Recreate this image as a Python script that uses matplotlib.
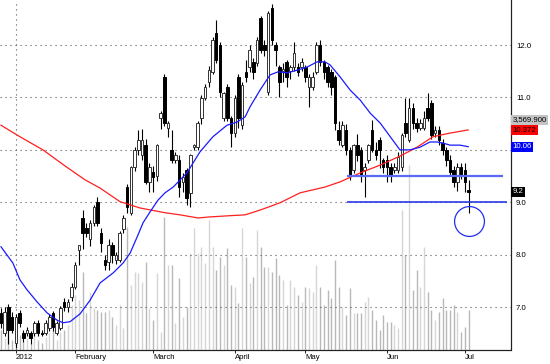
import matplotlib
matplotlib.use("Agg")
from matplotlib import pyplot as plt
from matplotlib.patches import Rectangle

# daily OHLC (one entry per trading day, late Dec 2011 -> early Jul 2012)
open_ = [6.89, 6.50, 7.00, 6.81, 6.32, 6.89, 6.50, 6.50, 6.50, 6.50,
         6.70, 6.50, 6.50, 6.60, 6.89, 6.50, 6.60, 7.10, 7.00, 7.19,
         7.38, 8.09, 8.70, 8.51, 8.30, 8.60, 9.00, 8.41, 7.90, 7.86,
         8.18, 7.90, 7.90, 8.49, 9.29, 8.80, 9.67, 10.00, 9.90, 10.09,
         9.39, 9.58, 9.50, 10.61, 11.39, 10.42, 10.00, 9.81, 9.81, 9.39,
         9.62, 9.18, 10.06, 10.06, 10.61, 10.99, 11.29, 11.48, 12.23, 12.00,
         10.61, 11.20, 10.61, 10.32, 11.39, 10.48, 11.48, 11.58, 11.68, 11.65,
         12.52, 12.00, 11.10, 12.71, 12.00, 11.58, 11.50, 11.68, 11.50, 11.58,
         11.58, 11.58, 11.58, 11.20, 11.20, 11.48, 12.00, 11.68, 11.58, 11.48,
         11.39, 10.38, 10.09, 10.38, 10.00, 9.62, 10.09, 10.00, 9.62, 9.81,
         10.38, 10.00, 10.19, 9.81, 9.81, 9.67, 9.62, 9.62, 9.67, 10.51,
         10.19, 10.80, 10.51, 10.42, 10.42, 10.80, 10.90, 10.32, 10.38, 10.13,
         10.00, 9.81, 9.62, 9.39, 9.67, 9.62, 9.23]
high = [6.98, 7.00, 7.05, 6.90, 6.87, 6.95, 6.56, 6.62, 6.55, 6.74,
        6.75, 6.57, 6.76, 6.86, 6.93, 6.74, 7.02, 7.18, 7.15, 7.45,
        7.86, 8.19, 8.85, 8.60, 8.66, 8.95, 9.10, 8.50, 8.00, 8.30,
        8.25, 8.05, 8.45, 8.75, 9.35, 9.70, 10.05, 10.38, 10.40, 10.20,
        9.75, 9.70, 10.12, 10.75, 11.45, 10.55, 10.38, 9.95, 9.90, 9.55,
        9.65, 9.92, 10.12, 10.55, 11.05, 11.25, 11.60, 12.15, 12.48, 12.05,
        11.10, 11.25, 10.65, 11.05, 11.45, 11.30, 11.72, 12.00, 11.75, 12.15,
        12.55, 12.10, 12.65, 12.78, 12.05, 11.62, 11.65, 11.72, 11.62, 12.05,
        11.65, 11.75, 11.62, 11.45, 11.48, 12.05, 12.10, 11.72, 11.62, 11.55,
        11.42, 10.55, 10.55, 10.50, 10.05, 10.12, 10.30, 10.05, 9.75, 10.12,
        10.57, 10.15, 10.25, 9.85, 9.90, 9.75, 9.75, 9.95, 10.32, 10.99,
        10.99, 10.90, 10.60, 10.58, 10.75, 11.08, 10.95, 10.45, 10.45, 10.20,
        10.05, 9.90, 9.70, 9.75, 9.75, 9.75, 9.42]
low = [6.60, 6.45, 6.30, 6.50, 6.22, 6.62, 6.33, 6.45, 6.30, 6.45,
       6.44, 6.44, 6.46, 6.55, 6.55, 6.46, 6.56, 6.93, 6.90, 7.12,
       7.35, 7.80, 8.10, 8.33, 8.16, 8.55, 8.55, 8.05, 7.70, 7.70,
       7.85, 7.82, 7.86, 8.42, 8.80, 8.75, 9.60, 9.90, 9.80, 9.35,
       9.20, 9.20, 9.40, 10.40, 10.45, 10.25, 9.75, 9.75, 9.10, 9.20,
       8.95, 8.90, 10.00, 10.00, 10.50, 10.95, 11.20, 11.45, 11.65, 11.00,
       10.55, 10.55, 10.05, 10.25, 10.42, 10.40, 11.29, 11.48, 11.35, 11.60,
       11.85, 11.80, 11.05, 12.00, 11.60, 11.00, 11.30, 11.20, 11.35, 11.50,
       11.40, 11.50, 11.30, 10.82, 11.15, 11.45, 11.60, 11.35, 11.20, 11.05,
       10.38, 10.10, 10.05, 9.90, 9.42, 9.55, 9.78, 9.38, 9.10, 9.75,
       9.95, 9.80, 9.65, 9.55, 9.38, 9.38, 9.55, 9.55, 9.60, 10.25,
       10.15, 10.40, 10.35, 10.38, 10.38, 10.55, 10.20, 10.25, 10.10, 9.90,
       9.70, 9.50, 9.30, 9.21, 9.45, 9.20, 8.80]
close = [6.70, 6.91, 6.56, 6.56, 6.81, 6.70, 6.41, 6.56, 6.41, 6.70,
         6.50, 6.49, 6.70, 6.81, 6.62, 6.70, 6.98, 7.00, 7.10, 7.38,
         7.80, 8.18, 8.41, 8.41, 8.60, 8.91, 8.60, 8.22, 7.80, 8.18,
         7.99, 7.99, 8.41, 8.70, 8.91, 9.67, 10.00, 10.19, 10.19, 9.39,
         9.67, 9.48, 10.09, 10.70, 10.51, 10.51, 9.81, 9.90, 9.29, 9.48,
         9.08, 9.90, 10.09, 10.51, 10.99, 11.20, 11.52, 12.10, 11.72, 11.10,
         11.08, 10.61, 10.32, 10.99, 10.61, 11.24, 11.39, 11.91, 11.48, 12.10,
         11.91, 11.91, 12.61, 12.10, 11.91, 11.29, 11.54, 11.39, 11.58, 11.85,
         11.48, 11.68, 11.39, 11.39, 11.39, 12.00, 11.68, 11.48, 11.29, 11.20,
         10.51, 10.19, 10.48, 10.00, 9.52, 10.09, 9.90, 9.52, 9.67, 10.09,
         10.00, 9.90, 10.00, 9.67, 9.67, 9.52, 9.67, 9.87, 10.28, 10.32,
         10.80, 10.51, 10.42, 10.51, 10.61, 10.61, 10.28, 10.38, 10.19, 10.00,
         9.81, 9.58, 9.39, 9.67, 9.52, 9.39, 9.20]
volume = [2.0, 1.2, 2.3, 1.0, 1.7, 1.5, 0.8, 1.2, 0.6, 1.4,
          1.0, 0.7, 1.3, 1.7, 2.0, 1.0, 1.8, 2.0, 2.5, 4.5,
          5.5, 5.0, 7.8, 3.7, 5.8, 4.2, 4.0, 3.8, 3.8, 4.0,
          3.3, 2.5, 4.5, 2.2, 12.3, 6.5, 7.8, 7.7, 6.8, 8.8,
          4.2, 3.0, 7.7, 1.8, 13.3, 8.5, 8.5, 2.7, 7.2, 3.3,
          4.3, 9.7, 12.2, 9.7, 10.3, 8.7, 13.0, 10.3, 8.0, 9.3,
          8.5, 10.2, 6.5, 6.3, 4.7, 12.2, 9.3, 6.7, 7.3, 12.0,
          10.3, 8.3, 8.3, 7.8, 9.2, 7.5, 7.0, 4.5, 7.0, 6.3,
          5.5, 4.8, 6.3, 6.2, 5.8, 8.5, 6.3, 4.5, 6.0, 5.2,
          9.0, 6.3, 4.3, 3.5, 6.2, 3.7, 3.7, 3.7, 4.8, 5.3,
          4.0, 3.0, 2.0, 3.5, 2.8, 2.8, 2.5, 2.2, 14.0, 9.5,
          18.5, 6.0, 8.0, 6.3, 10.3, 5.8, 4.0, 3.0, 3.8, 5.2,
          4.0, 4.0, 4.5, 3.8, 1.8, 2.3, 4.0]

# moving averages at sample days
ma_fast_day = [0, 3.2, 5.1, 7, 9.7, 12.4, 15.1, 16.7, 18.6, 21.3, 24, 26.7, 30.2, 32.9,
               34.8, 36.7, 38.3, 40.2, 42.3, 44.2, 46.4, 50.1, 53.6, 57.1, 60.9, 63.6,
               65.8, 67.1, 69.8, 72.5, 74.7, 77.1, 79.8, 82.5, 85.2, 87.3, 88.7, 91.4,
               94.1, 96.8, 99.5, 102.2, 104.9, 107.5, 110.2, 112.9, 115.6, 117.5, 119.1,
               121, 123.7, 125.9]
ma_fast = [8.15, 7.84, 7.52, 7.33, 7.10, 6.89, 6.75, 6.70, 6.72, 6.87, 7.13, 7.46, 7.65,
           7.84, 8.03, 8.34, 8.61, 8.82, 9.04, 9.18, 9.29, 9.56, 9.96, 10.25, 10.47, 10.53,
           10.63, 10.82, 11.14, 11.43, 11.49, 11.47, 11.52, 11.58, 11.68, 11.68, 11.62,
           11.39, 11.14, 10.95, 10.70, 10.51, 10.25, 10.00, 10.00, 10.05, 10.15, 10.15,
           10.13, 10.09, 10.09, 10.06]
ma_slow_day = [0, 5.1, 11.3, 17.3, 22.6, 26.7, 32.1, 37.5, 44.2, 48.2, 53.1, 56.3, 60.9,
               65.8, 69.8, 75.2, 80.6, 87.3, 91.4, 96.8, 102.2, 107.5, 112.1, 116.4, 121,
               125.9]
ma_slow = [10.47, 10.25, 10.00, 9.69, 9.43, 9.27, 9.01, 8.89, 8.80, 8.76, 8.70, 8.72, 8.74,
           8.76, 8.85, 8.99, 9.18, 9.29, 9.39, 9.56, 9.71, 9.88, 10.05, 10.25, 10.32, 10.38]

month_days = [4, 20, 41, 63, 82, 104, 125]
month_labels = ["2012", "February", "March", "April", "May", "Jun", "Jul"]
price_ticks = [7.0, 8.0, 9.0, 10.0, 11.0, 12.0]

support_levels = [9.51, 9.01]
support_start = 93.3
support_end = [135.3, 136.4]

plt.rcParams["font.family"] = ["Liberation Sans", "DejaVu Sans"]

fig = plt.figure(figsize=(5.5, 3.64), dpi=100)
ax_vol = fig.add_axes([0.0, 14 / 364, 510.5 / 550, 350 / 364])
ax = ax_vol.twinx()
ax.set_zorder(ax_vol.get_zorder() + 1)
ax.patch.set_visible(False)

days = list(range(len(close)))

# volume in the background
for d, v, o, c in zip(days, volume, open_, close):
    col = "#d6d6d6" if c >= o else "#b8b8b8"
    ax_vol.vlines(d, 0, v, color=col, lw=1.0)
ax_vol.set_ylim(0, 35)
ax_vol.set_yticks([])

# candles
w = 0.68
for d, o, h, l, c in zip(days, open_, high, low, close):
    ax.vlines(d, l, h, color="black", lw=0.8, zorder=3)
    if c >= o:
        ax.add_patch(Rectangle((d - w / 2, o), w, max(c - o, 0.02),
                               facecolor="white", edgecolor="#333333", lw=0.7, zorder=4))
    else:
        ax.add_patch(Rectangle((d - w / 2, c), w, max(o - c, 0.02),
                               facecolor="black", edgecolor="black", lw=0.7, zorder=4))

ax.plot(ma_slow_day, ma_slow, color="#ff1f1f", lw=0.9, zorder=5)
ax.plot(ma_fast_day, ma_fast, color="#1a1aff", lw=0.9, zorder=5)

ax.hlines(support_levels[0], support_start, support_end[0], color="#5a6af2", lw=1.6, zorder=5)
ax.hlines(support_levels[1], support_start, support_end[1], color="#2a3ae6", lw=1.2, zorder=5)
ax.plot([126.2], [8.64], "o", ms=21.5, mfc="none", mec="#1f2fee", mew=0.9, zorder=6)

ax.set_xlim(-0.27, 137.3)
ax.set_ylim(6.18, 12.86)

for p in price_ticks:
    ax.axhline(p, color="#555555", lw=0.8, ls=(0, (1, 3.5)), zorder=1)
ax.axvline(month_days[0], color="#555555", lw=0.8, ls=(0, (1, 3.5)), zorder=1)

ax.set_yticks(price_ticks)
ax.set_yticklabels(["%.1f" % p for p in price_ticks])
ax.tick_params(axis="y", length=0, pad=4, labelsize=5.6)
ax_vol.set_xticks(month_days)
ax_vol.set_xticklabels(month_labels, ha="left")
ax_vol.tick_params(axis="x", length=2.5, width=0.6, pad=0.5, labelsize=5.6, direction="out")

for a in (ax, ax_vol):
    a.spines["top"].set_visible(False)
    a.spines["left"].set_visible(False)
    a.spines["right"].set_color("#222222")
    a.spines["bottom"].set_color("#222222")

# last-value tags on the right axis (they sit over the 10.0 label, as in the source)
tr = ax.get_yaxis_transform()
tags = [(10.57, "3,569.900", "#c4c4c4", "black"),
        (10.372, "10.372", "#ff0000", "black"),
        (10.06, "10.06", "#0000ff", "white"),
        (9.2, "9.2", "black", "white")]
for y, txt, bg, fg in tags:
    ax.text(1.004, y, txt, transform=tr, ha="left", va="center", fontsize=5.6, color=fg,
            clip_on=False, zorder=10,
            bbox=dict(boxstyle="square,pad=0.18", fc=bg, ec="none"))

fig.savefig("out.png", dpi=100)
